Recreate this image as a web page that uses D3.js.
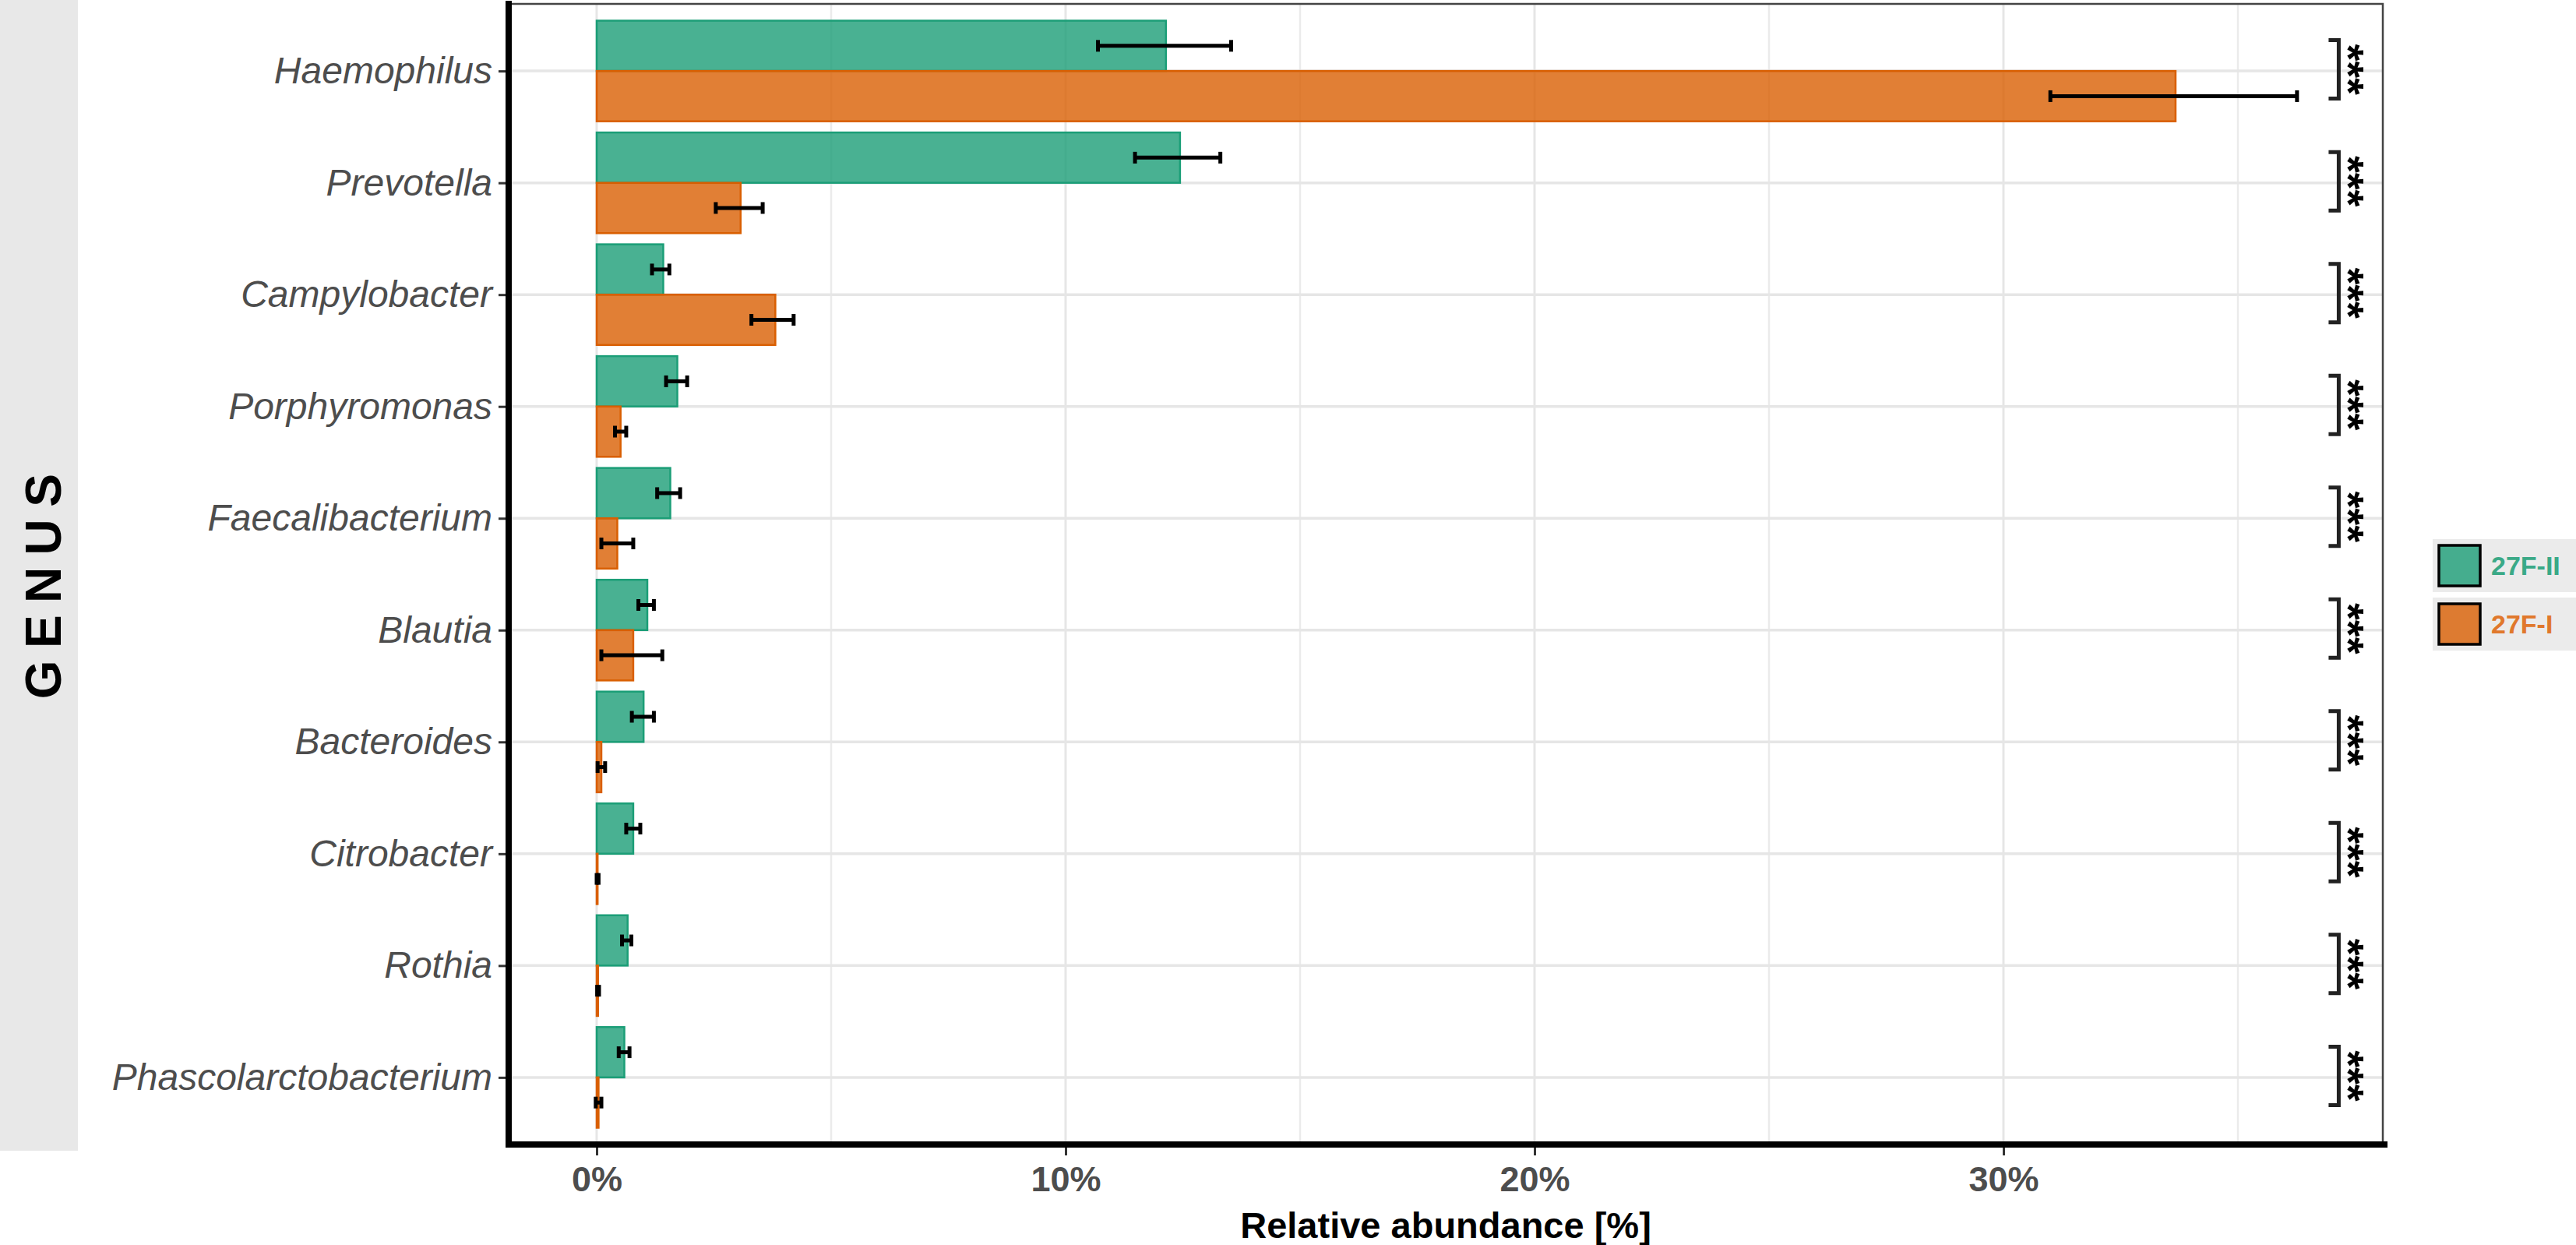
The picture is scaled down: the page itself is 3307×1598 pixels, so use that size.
<!DOCTYPE html>
<html>
<head>
<meta charset="utf-8">
<script src="https://cdn.jsdelivr.net/npm/d3@7"></script>
<style>
  html, body { margin: 0; padding: 0; background: #ffffff; }
  svg { display: block; }
</style>
</head>
<body>
<svg id="chart" width="3307" height="1598"></svg>
<script>
// ---------------- DATA ----------------
const categories = ["Haemophilus", "Prevotella", "Campylobacter", "Porphyromonas", "Faecalibacterium",
                    "Blautia", "Bacteroides", "Citrobacter", "Rothia", "Phascolarctobacterium"];
const groups = ["27F-II", "27F-I"];
// mean relative abundance (%)
const values27FII = [12.14, 12.44, 1.42, 1.72, 1.57, 1.08, 1.00, 0.78, 0.66, 0.59];
const values27FI  = [33.67, 3.07, 3.81, 0.51, 0.44, 0.78, 0.10, 0.02, 0.03, 0.04];
// error bar bounds (%)
const errLow27FII  = [10.69, 11.48, 1.18, 1.48, 1.29, 0.89, 0.75, 0.63, 0.54, 0.47];
const errHigh27FII = [13.53, 13.30, 1.55, 1.93, 1.78, 1.22, 1.22, 0.93, 0.74, 0.70];
const errLow27FI   = [31.00, 2.54, 3.30, 0.39, 0.10, 0.10, 0.02, 0.00, 0.01, -0.02];
const errHigh27FI  = [36.26, 3.54, 4.20, 0.63, 0.78, 1.40, 0.18, 0.04, 0.05, 0.10];
const significance = ["***", "***", "***", "***", "***", "***", "***", "***", "***", "***"];
const xTicks = [0, 10, 20, 30];
const xMinorTicks = [5, 15, 25, 35];
const xDomain = [-1.877, 38.09];
const bracketX = 37.15;   // position of significance brackets (data units)
const starsX = 37.52;
const yTitle = "GENUS";
const xTitle = "Relative abundance [%]";

// ---------------- STYLE ----------------
const fillColors = {"27F-II": "#1B9E77", "27F-I": "#D95F02"};
const textColors = {"27F-II": "#3aa987", "27F-I": "#e0782c"};
const font = "'Liberation Sans', Arial, sans-serif";

const svg = d3.select("#chart");
const panel = {left: 653, right: 3059, top: 5, bottom: 1469};

const x = d3.scaleLinear().domain(xDomain).range([panel.left, panel.right]);
const y = d3.scalePoint().domain(categories).range([panel.top, panel.bottom]).padding(0.6);
const step = y.step();
const barH = step * 0.45;

// left strip
svg.append("rect").attr("x", 0).attr("y", 0).attr("width", 100).attr("height", 1477).attr("fill", "#e8e8e8");
svg.append("text")
  .attr("transform", `translate(56,${(panel.top + panel.bottom) / 2 + 8}) rotate(-90)`)
  .attr("text-anchor", "middle")
  .attr("dominant-baseline", "central")
  .attr("font-family", font).attr("font-weight", "bold").attr("font-size", 64)
  .attr("letter-spacing", "0.24em")
  .attr("fill", "#000")
  .text(yTitle);

// panel background
svg.append("rect").attr("x", panel.left).attr("y", panel.top)
  .attr("width", panel.right - panel.left).attr("height", panel.bottom - panel.top)
  .attr("fill", "#fff");

const grid = svg.append("g");
grid.selectAll(".vminor").data(xMinorTicks).join("line")
  .attr("x1", d => x(d)).attr("x2", d => x(d))
  .attr("y1", panel.top).attr("y2", panel.bottom)
  .attr("stroke", "#ebebeb").attr("stroke-width", 2.5);
grid.selectAll(".vmajor").data(xTicks).join("line")
  .attr("x1", d => x(d)).attr("x2", d => x(d))
  .attr("y1", panel.top).attr("y2", panel.bottom)
  .attr("stroke", "#e6e6e6").attr("stroke-width", 3);
grid.selectAll(".hmajor").data(categories).join("line")
  .attr("x1", panel.left).attr("x2", panel.right)
  .attr("y1", d => y(d)).attr("y2", d => y(d))
  .attr("stroke", "#e6e6e6").attr("stroke-width", 3.5);

// bars
const rows = categories.map((c, i) => ({
  cat: c,
  bars: [
    {g: "27F-II", v: values27FII[i], lo: errLow27FII[i], hi: errHigh27FII[i], off: -barH},
    {g: "27F-I",  v: values27FI[i],  lo: errLow27FI[i],  hi: errHigh27FI[i],  off: 0}
  ]
}));
const flat = rows.flatMap(r => r.bars.map(b => Object.assign({cat: r.cat}, b)));

svg.append("g").selectAll("rect").data(flat).join("rect")
  .attr("x", x(0))
  .attr("y", d => y(d.cat) + d.off)
  .attr("width", d => Math.max(0, x(d.v) - x(0)))
  .attr("height", barH)
  .attr("fill", d => fillColors[d.g]).attr("fill-opacity", 0.8)
  .attr("stroke", d => fillColors[d.g]).attr("stroke-width", 2.5);

// error bars
const eb = svg.append("g").attr("stroke", "#000");
const capH = 15;
eb.selectAll(".eline").data(flat).join("line")
  .attr("x1", d => x(d.lo)).attr("x2", d => x(d.hi))
  .attr("y1", d => y(d.cat) + d.off + barH / 2).attr("y2", d => y(d.cat) + d.off + barH / 2)
  .attr("stroke-width", 5);
eb.selectAll(".ecapl").data(flat).join("line")
  .attr("x1", d => x(d.lo)).attr("x2", d => x(d.lo))
  .attr("y1", d => y(d.cat) + d.off + barH / 2 - capH / 2).attr("y2", d => y(d.cat) + d.off + barH / 2 + capH / 2)
  .attr("stroke-width", 5);
eb.selectAll(".ecaph").data(flat).join("line")
  .attr("x1", d => x(d.hi)).attr("x2", d => x(d.hi))
  .attr("y1", d => y(d.cat) + d.off + barH / 2 - capH / 2).attr("y2", d => y(d.cat) + d.off + barH / 2 + capH / 2)
  .attr("stroke-width", 5);

// significance brackets
const brH = 37.5;
const sig = svg.append("g");
sig.selectAll("path").data(categories).join("path")
  .attr("d", d => {
    const bx = x(bracketX), cy = y(d) - 2;
    return `M${bx - 13},${cy - brH} H${bx} V${cy + brH} H${bx - 13}`;
  })
  .attr("fill", "none").attr("stroke", "#222").attr("stroke-width", 5);
sig.selectAll("text").data(categories).join("text")
  .attr("transform", d => `translate(${x(starsX)},${y(d) - 2}) rotate(90)`)
  .attr("text-anchor", "middle")
  .attr("dy", "0.52em")
  .attr("font-family", font).attr("font-weight", "bold").attr("font-size", 56)
  .attr("fill", "#000")
  .text((d, i) => significance[i]);

// panel border (top & right thin)
svg.append("path")
  .attr("d", `M${panel.left},${panel.top} H${panel.right} V${panel.bottom}`)
  .attr("fill", "none").attr("stroke", "#444").attr("stroke-width", 2.5);

// y axis
const yAxis = svg.append("g").attr("transform", `translate(${panel.left},0)`)
  .call(d3.axisLeft(y).tickSize(13).tickPadding(8));
yAxis.select(".domain").remove();
yAxis.selectAll(".tick line").attr("stroke", "#333").attr("stroke-width", 3);
yAxis.selectAll(".tick text")
  .attr("font-family", font).attr("font-style", "italic").attr("font-size", 48)
  .attr("fill", "#4d4d4d");

// x axis
const xAxis = svg.append("g").attr("transform", `translate(0,${panel.bottom})`)
  .call(d3.axisBottom(x).tickValues(xTicks).tickFormat(d => d + "%").tickSize(14).tickPadding(14));
xAxis.select(".domain").remove();
xAxis.selectAll(".tick line").attr("stroke", "#333").attr("stroke-width", 3);
xAxis.selectAll(".tick text")
  .attr("font-family", font).attr("font-weight", "bold").attr("font-size", 45)
  .attr("fill", "#4d4d4d");

// thick left/bottom axis lines
svg.append("path")
  .attr("d", `M${panel.left},${panel.top} V${panel.bottom} H${panel.right + 2}`)
  .attr("fill", "none").attr("stroke", "#000").attr("stroke-width", 8)
  .attr("stroke-linecap", "square");

// x title
svg.append("text")
  .attr("x", (panel.left + panel.right) / 2).attr("y", 1589)
  .attr("text-anchor", "middle")
  .attr("font-family", font).attr("font-weight", "bold").attr("font-size", 47)
  .attr("fill", "#000")
  .text(xTitle);

// legend
const legend = svg.append("g").attr("transform", "translate(3123,692)");
groups.forEach((g, i) => {
  const gy = i * 75;
  legend.append("rect").attr("x", 0).attr("y", gy).attr("width", 184).attr("height", 68).attr("fill", "#ebebeb");
  legend.append("rect").attr("x", 8).attr("y", gy + 8).attr("width", 53).attr("height", 52)
    .attr("fill", fillColors[g]).attr("fill-opacity", 0.8)
    .attr("stroke", "#000").attr("stroke-width", 3.5);
  legend.append("text").attr("x", 75).attr("y", gy + 34).attr("dy", "0.36em")
    .attr("font-family", font).attr("font-weight", "bold").attr("font-size", 34)
    .attr("fill", textColors[g]).text(g);
});
</script>
</body>
</html>
